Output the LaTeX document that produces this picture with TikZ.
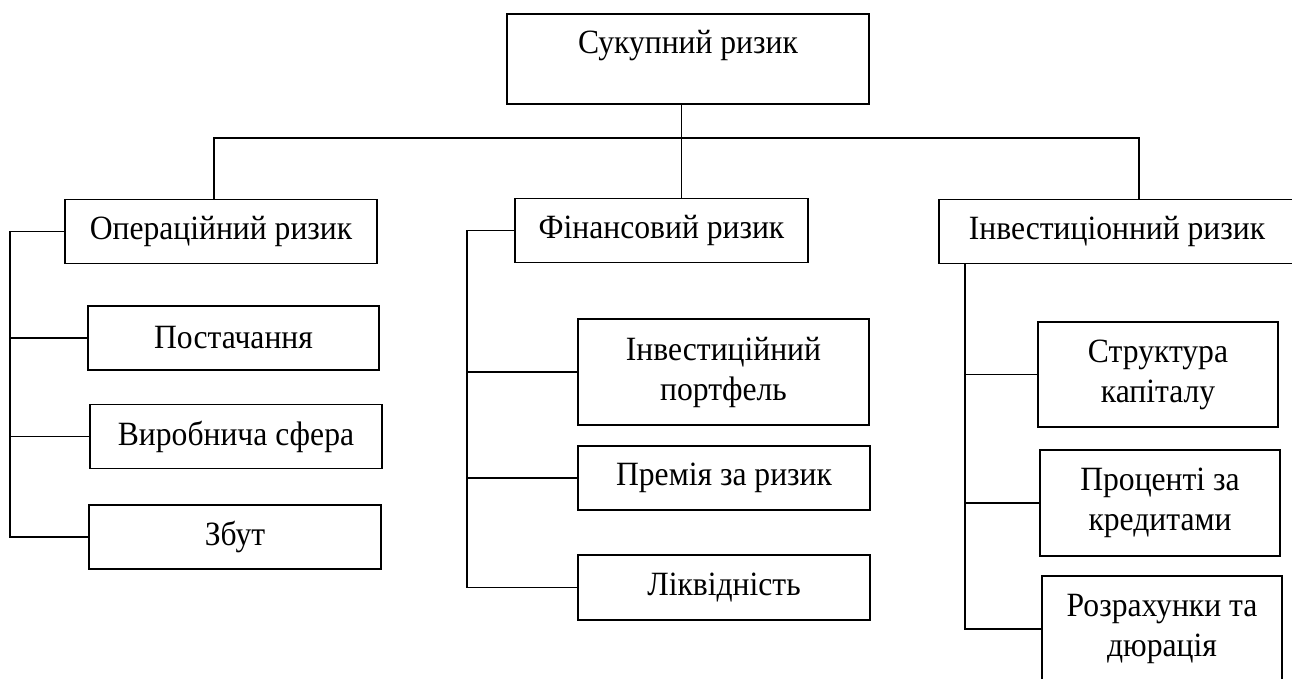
\documentclass[tikz,border=0pt]{standalone}
\usepackage{fontspec}
\setmainfont[FakeStretch=0.93]{Liberation Serif}

\begin{document}
\begin{tikzpicture}[x=1pt,y=-1pt,line width=1.3pt,
    box/.style={draw,inner sep=0pt,minimum height=64pt,align=center,
      font=\fontsize{34}{40}\selectfont}]
    \useasboundingbox (0,0) rectangle (1292,678);
    % Top box
    \node[box,minimum width=362pt,text height=39pt,text depth=51pt] (total) at (688,59) {Сукупний ризик};
    % Second level
    \node[box,minimum width=312pt] (op) at (221,231.5) {Операційний ризик};
    \node[box,minimum width=293pt] (fin) at (661.5,230.5) {Фінансовий ризик};
    \node[box,minimum width=356pt] (inv) at (1117,231.5) {Інвестиціонний ризик};
    % Operational branch
    \node[box,minimum width=291pt] (post) at (233.5,338) {Постачання};
    \node[box,minimum width=292pt] (vyr) at (236,436.5) {Виробнича сфера};
    \node[box,minimum width=292pt] (zbut) at (235,537) {Збут};
    % Financial branch
    \node[box,minimum width=291pt,minimum height=106pt] (port) at (723.5,372) {Інвестиційний\\портфель};
    \node[box,minimum width=292pt] (prem) at (724,478) {Премія за ризик};
    \node[box,minimum width=292pt,minimum height=65pt] (likv) at (724,587.5) {Ліквідність};
    % Investment branch
    \node[box,minimum width=240pt,minimum height=105pt] (strukt) at (1158,374.5) {Структура\\капіталу};
    \node[box,minimum width=240pt,minimum height=106pt] (proc) at (1160,503) {Проценті за\\кредитами};
    \node[box,minimum width=240pt,minimum height=106pt] (rozr) at (1162,629) {Розрахунки та\\дюрація};
    % Bus under top box
    \coordinate (bus) at (681.6,138);
    \coordinate (busL) at (214,138);
    \coordinate (busR) at (1139,138);
    \draw (bus |- total.south) -- (bus |- fin.north);
    \draw (busL |- op.north) -- (busL) -- (busR) -- (busR |- inv.north);
    % Spines
    \coordinate (opspine) at (10,0);
    \coordinate (finspine) at (467,0);
    \coordinate (invspine) at (965,0);
    \draw (op.west) -- (op.west -| opspine) -- (opspine |- zbut.west) -- (zbut.west);
    \foreach \n in {post,vyr}
        \draw (\n.west -| opspine) -- (\n.west);
    \draw (fin.west) -- (fin.west -| finspine) -- (finspine |- likv.west) -- (likv.west);
    \foreach \n in {port,prem}
        \draw (\n.west -| finspine) -- (\n.west);
    \draw (inv.south -| invspine) -- (invspine |- rozr.west) -- (rozr.west);
    \foreach \n in {strukt,proc}
        \draw (\n.west -| invspine) -- (\n.west);
\end{tikzpicture}
\end{document}
